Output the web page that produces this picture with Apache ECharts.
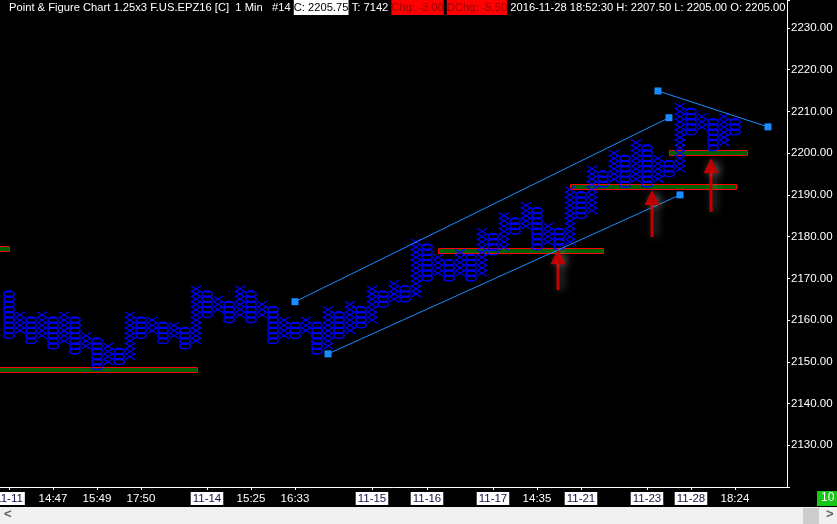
<!DOCTYPE html>
<html>
<head>
<meta charset="utf-8">
<script src="https://cdn.jsdelivr.net/npm/echarts@6/dist/echarts.min.js"></script>
<style>
  html, body { margin: 0; padding: 0; background: #000; }
  #chart { width: 837px; height: 524px; }
</style>
</head>
<body>
<div id="chart"></div>
<script>
// box size of the P&F chart
var BOX = 1.25;
var FONT = 'Liberation Sans';

// columns: 1 = X column, 0 = O column
var colType = [0,1,0,1,0,1,0,1,0,1, 0,1,0,1,0,1,0,1,0,1, 0,1,0,1,0,1,0,1,0,1,
               0,1,0,1,0,1,0,1,0,1, 0,1,0,1,0,1,0,1,0,1, 0,1,0,1,0,1,0,1,0,1,
               0,1,0,1,0,1,0];
var colLow = [2156.25,2157.5,2155,2156.25,2153.75,2155,2152.5,2153.75,2148.75,2150,
              2150,2151.25,2156.25,2157.5,2155,2156.25,2153.75,2155,2161.25,2162.5,
              2160,2161.25,2160,2161.25,2155,2156.25,2156.25,2157.5,2152.5,2153.75,
              2156.25,2157.5,2158.75,2160,2163.75,2165,2165,2166.25,2170,2171.25,
              2170,2171.25,2170,2171.25,2176.25,2177.5,2181.25,2182.5,2177.5,2178.75,
              2177.5,2178.75,2185,2186.25,2192.5,2193.75,2192.5,2193.75,2192.5,2193.75,
              2195,2196.25,2205,2206.25,2201.25,2202.5,2205];
var colHigh = [2166.25,2161.25,2160,2161.25,2160,2161.25,2160,2156.25,2155,2153.75,
               2152.5,2161.25,2160,2160,2158.75,2158.75,2157.5,2167.5,2166.25,2165,
               2163.75,2167.5,2166.25,2163.75,2162.5,2160,2158.75,2160,2158.75,2162.5,
               2161.25,2163.75,2162.5,2167.5,2166.25,2168.75,2167.5,2178.75,2177.5,2175,
               2173.75,2176.25,2175,2181.25,2180,2185,2183.75,2187.5,2186.25,2182.5,
               2181.25,2191.25,2190,2196.25,2195,2200,2198.75,2202.5,2201.25,2198.75,
               2197.5,2211.25,2210,2208.75,2207.5,2208.75,2207.5];

// x-axis labels (column index -> text)
var tickCols   = [0, 4, 8, 12, 18, 22, 26, 33, 38, 44, 48, 52, 58, 62, 66];
var tickLabels = ['11-11','14:47','15:49','17:50','11-14','15:25','16:33','11-15',
                  '11-16','11-17','14:35','11-21','11-23','11-28','18:24'];

// trend lines [col, price]
var upperChannel = [[26, 2164.4], [60, 2208.5]];
var lowerChannel = [[29, 2151.9], [61, 2190.0]];
var topLine      = [[59, 2214.9], [69, 2206.3]];

// support levels
var levelStart = [-0.9, -0.9, 39, 51, 60];
var levelEnd   = [17.1, 0.05, 54, 66.1, 67.1];
var levelPrice = [2148.0, 2177.0, 2176.6, 2192.0, 2200.1];

// arrows
var arrowCol  = [49.9, 58.5, 63.8];
var arrowTip  = [2177.0, 2191.2, 2198.8];
var arrowTail = [2167.2, 2179.9, 2185.9];

var lastPrice = 2205.75;

var pnfData = colType.map(function (t, i) { return [i, colLow[i], colHigh[i], t]; });
var levelData = levelPrice.map(function (p, i) { return [levelStart[i], levelEnd[i], p]; });
var arrowData = arrowCol.map(function (c, i) { return [c, arrowTip[i], arrowTail[i]]; });

function renderColumn(params, api) {
    var col = api.value(0), lo = api.value(1), hi = api.value(2), isX = api.value(3) === 1;
    var size = api.size([1, BOX]);
    var w = size[0] * 0.47, h = size[1] / 2;
    var kids = [];
    for (var p = lo; p <= hi + 1e-6; p += BOX) {
        var c = api.coord([col, p]);
        if (isX) {
            kids.push({type: 'line', shape: {x1: c[0] - w, y1: c[1] - h * 1.2, x2: c[0] + w, y2: c[1] + h * 1.2},
                style: {stroke: '#0000ff', lineWidth: 1.2}});
            kids.push({type: 'line', shape: {x1: c[0] - w, y1: c[1] + h * 1.2, x2: c[0] + w, y2: c[1] - h * 1.2},
                style: {stroke: '#0000ff', lineWidth: 1.2}});
        } else {
            kids.push({type: 'ellipse', shape: {cx: c[0], cy: c[1], rx: w, ry: h},
                style: {fill: null, stroke: '#0000ff', lineWidth: 1.4}});
            // flat band where two O's touch
            kids.push({type: 'rect', shape: {x: c[0] - w * 0.55, y: c[1] - h - 1, width: w * 1.1, height: 2},
                style: {fill: '#0000ff'}});
        }
    }
    return {type: 'group', children: kids};
}

function renderLevel(params, api) {
    var a = api.coord([api.value(0), api.value(2)]);
    var b = api.coord([api.value(1), api.value(2)]);
    var y = Math.round(a[1]) - 2.5;
    return {type: 'rect', shape: {x: Math.round(a[0]) + 0.5, y: y, width: Math.round(b[0] - a[0]), height: 5},
        style: {fill: '#006000', stroke: '#ff0000', lineWidth: 1}};
}

function renderArrow(params, api) {
    var tip = api.coord([api.value(0), api.value(1)]);
    var tail = api.coord([api.value(0), api.value(2)]);
    var x = Math.round(tip[0]), y = tip[1];
    var shadow = {shadowBlur: 8, shadowColor: 'rgba(160,160,160,0.6)', shadowOffsetX: 3};
    return {type: 'group', children: [
        {type: 'rect', shape: {x: x - 1.5, y: y + 12, width: 3, height: tail[1] - y - 12},
            style: Object.assign({fill: '#c00000'}, shadow)},
        {type: 'polygon', shape: {points: [[x, y], [x + 7.5, y + 15], [x - 7.5, y + 15]]},
            style: Object.assign({fill: '#c00000'}, shadow)}
    ]};
}

var trendStyle = {
    type: 'line', symbol: 'rect', symbolSize: 7, silent: true,
    lineStyle: {color: '#1a8cff', width: 1}, itemStyle: {color: '#1a8cff'}, z: 5
};

var titleBase = {fontSize: 11.2, fontFamily: FONT, fontWeight: 'normal', height: 15, lineHeight: 15};

var chart = echarts.init(document.getElementById('chart'));
chart.setOption({
    backgroundColor: '#000000',
    animation: false,
    textStyle: {fontFamily: FONT},
    title: {
        left: 9, top: 0, padding: 0,
        text: '{w|Point & Figure Chart 1.25x3 F.US.EPZ16 [C]  1 Min   #14 }{b|C: 2205.75}{w| T: 7142 }{r|Chg: -3.00}{w| }{r|DChg: -5.50}{w| 2016-11-28 18:52:30 H: 2207.50 L: 2205.00 O: 2205.00}',
        textStyle: {
            fontWeight: 'normal',
            rich: {
                w: Object.assign({color: '#ffffff'}, titleBase),
                b: Object.assign({color: '#000000', backgroundColor: '#ffffff'}, titleBase),
                r: Object.assign({color: '#a00000', backgroundColor: '#ff0000'}, titleBase)
            }
        }
    },
    grid: {left: 0, right: 50, top: 0, bottom: 37, outerBoundsMode: 'none', containLabel: false},
    xAxis: {
        type: 'value', min: -0.818, max: 70.73,
        splitLine: {show: false},
        axisLine: {onZero: false, lineStyle: {color: '#ffffff', width: 1}},
        axisTick: {customValues: tickCols, length: 3, lineStyle: {color: '#ffffff'}},
        axisLabel: {
            customValues: tickCols, margin: 5,
            formatter: function (v) {
                var lab = tickLabels[tickCols.indexOf(Math.round(v))] || '';
                return lab.indexOf('-') > 0 ? '{d|' + lab + '}' : '{t|' + lab + '}';
            },
            rich: {
                d: {color: '#1c0a40', backgroundColor: '#ffffff', fontSize: 11.5, padding: [1, 2, 0, 2], fontFamily: FONT},
                t: {color: '#ffffff', fontSize: 11.5, padding: [1, 2, 0, 2], fontFamily: FONT}
            }
        }
    },
    yAxis: {
        type: 'value', position: 'right', min: 2120, max: 2236.7, interval: 10,
        splitLine: {show: false},
        axisLine: {show: true, onZero: false, lineStyle: {color: '#ffffff', width: 1}},
        axisTick: {show: true, length: 3, lineStyle: {color: '#ffffff'}},
        axisLabel: {
            color: '#ffffff', fontSize: 11.5, margin: 4, fontFamily: FONT,
            formatter: function (v) {
                return (Math.abs(v % 10) < 1e-6 && v > 2120) ? v.toFixed(2) : '';
            }
        }
    },
    series: [
        {type: 'custom', name: 'levels', renderItem: renderLevel, data: levelData, z: 2, clip: false,
         encode: {x: [0, 1], y: 2}},
        {type: 'custom', name: 'pnf', renderItem: renderColumn, data: pnfData, z: 3,
         encode: {x: 0, y: [1, 2]},
         markLine: {
             silent: true, symbol: 'none',
             lineStyle: {opacity: 0},
             label: {
                 position: 'end', distance: 5, formatter: lastPrice.toFixed(2),
                 color: '#000000', backgroundColor: '#ffffff', fontSize: 11.5, padding: [1, 2, 0, 2],
                 fontFamily: FONT
             },
             data: [{yAxis: lastPrice}]
         }},
        Object.assign({name: 'upper', data: upperChannel}, trendStyle),
        Object.assign({name: 'lower', data: lowerChannel}, trendStyle),
        Object.assign({name: 'top', data: topLine}, trendStyle),
        {type: 'custom', name: 'arrows', renderItem: renderArrow, data: arrowData, z: 6,
         encode: {x: 0, y: [1, 2]}}
    ],
    graphic: [
        {type: 'rect', left: 0, top: 507, shape: {width: 837, height: 17}, style: {fill: '#f0f0f0'}},
        {type: 'text', left: 4, top: 508, style: {text: '<', fill: '#606060', font: 'bold 13px Liberation Sans'}},
        {type: 'rect', left: 803, top: 508, shape: {width: 16, height: 16}, style: {fill: '#cdcdcd'}},
        {type: 'text', left: 826, top: 508, style: {text: '>', fill: '#606060', font: 'bold 13px Liberation Sans'}},
        {type: 'rect', left: 817, top: 491, shape: {width: 20, height: 15}, style: {fill: '#14c814'}},
        {type: 'text', left: 821, top: 492, style: {text: '10', fill: '#ffffff', font: '12px Liberation Sans'}}
    ]
});
</script>
</body>
</html>
